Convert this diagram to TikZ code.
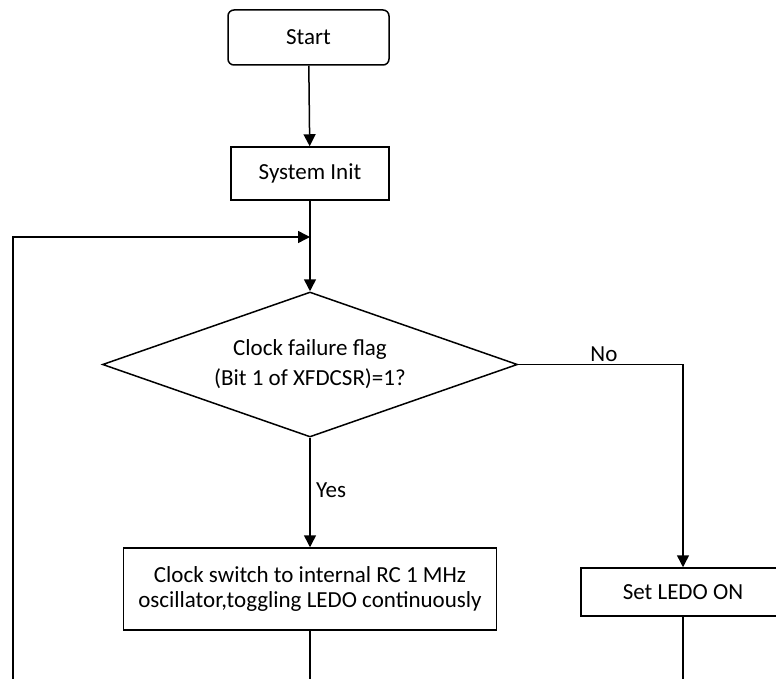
\documentclass[tikz,border=0pt]{standalone}
\usepackage{fontspec}
\setmainfont{Carlito}
\usetikzlibrary{shapes.geometric,arrows.meta}

\begin{document}
\begin{tikzpicture}[x=1pt,y=-1pt,line width=1.5pt,
  every node/.style={font=\fontsize{23}{25}\selectfont},
  box/.style={draw,rectangle,align=center,inner sep=0pt},
  startbox/.style={box,rounded corners=6pt},
  decision/.style={draw,diamond,aspect=2.86,inner sep=0pt,align=center,
    minimum width=415pt,minimum height=145pt,
    font=\fontsize{23}{30}\selectfont},
  arrow/.style={-{Triangle[length=12pt,width=12pt]}}]
  \useasboundingbox (0,0) rectangle (776,679);
  \node[startbox,minimum width=161pt,minimum height=55pt] (start) at (308.5,37.5) {Start};
  \node[box,minimum width=158pt,minimum height=53pt] (init) at (310,173.5) {System Init};
  \node[decision] (check) at (310,364.5) {Clock failure flag\\(Bit 1 of XFDCSR)=1?};
  \node[box,minimum width=373pt,minimum height=82pt] (clock) at (310,589)
    {Clock switch to internal RC 1 MHz\\oscillator,toggling LEDO continuously};
  \node[box,minimum width=204pt,minimum height=48pt] (led) at (683,592) {Set LEDO ON};
  \coordinate (merge) at (310,237);
  \coordinate (loop) at (13,690);
  \coordinate (clockout) at (310,690);
  \coordinate (ledout) at (683,690);
  \draw[arrow] (start) -- (init);
  \draw[arrow] (init) -- (check);
  \draw[arrow] (loop) |- (merge);
  \draw[arrow] (check) -- node[right,xshift=2pt,yshift=2pt] {Yes} (clock);
  \draw[arrow] (check.east) -| node[pos=0.26,above,yshift=-1pt] {No} (led);
  \draw (clock) -- (clockout);
  \draw (led) -- (ledout);
\end{tikzpicture}
\end{document}
